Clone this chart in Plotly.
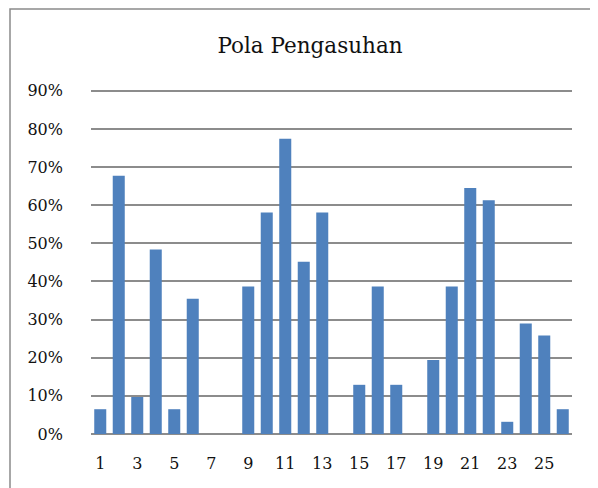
import plotly.graph_objects as go

categories = [str(i) for i in range(1, 27)]
values = [0.065, 0.677, 0.097, 0.484, 0.065, 0.355, 0.0, 0.0, 0.387, 0.581,
          0.774, 0.452, 0.581, 0.0, 0.129, 0.387, 0.129, 0.0, 0.194, 0.387,
          0.645, 0.613, 0.032, 0.290, 0.258, 0.065]
tick_labels = [str(i) for i in range(1, 27, 2)]
y_ticks = [i / 10 for i in range(10)]
y_labels = [f"{i*10}%" for i in range(10)]

OFF = 8  # page body margin
W, H = 598 - OFF, 488 - OFF
L, R, T, B = 91 - OFF, 26, 87 - OFF, 54
pw, ph = W - L - R, H - T - B

fig = go.Figure(go.Bar(x=categories, y=values, marker_color="#4F81BD",
                       marker_line_width=0))
font = "DejaVu Serif"
fig.update_layout(
    width=W, height=H, margin=dict(l=L, r=R, t=T, b=B),
    paper_bgcolor="white", plot_bgcolor="white",
    bargap=0.35, showlegend=False,
    title=dict(text="Pola Pengasuhan", x=(310 - 91) / pw, xref="paper", xanchor="center",
               y=1 - (45 - OFF) / H, yanchor="middle",
               font=dict(family=font, size=21.5, color="#111")),
    font=dict(family=font, size=16, color="#111"),
    xaxis=dict(type="category", tickmode="array", tickvals=tick_labels,
               ticktext=tick_labels, showgrid=False, showline=False, ticks="",
               ticklabelstandoff=18),
    yaxis=dict(range=[0, 0.91], tickvals=y_ticks, ticktext=y_labels,
               showgrid=True, gridcolor="#8c8c8c", gridwidth=1.5,
               zeroline=True, zerolinecolor="#8c8c8c", zerolinewidth=1.5,
               showline=False, ticks="", ticklabelstandoff=27),
)
fig.add_shape(type="rect", xref="paper", yref="paper",
              x0=(10 - 91) / pw, x1=(597 - 91) / pw,
              y0=-(H - T) / ph - 0.05, y1=1 + (T - 1) / ph,
              line=dict(color="#8a8a8a", width=1.5), fillcolor="rgba(0,0,0,0)",
              layer="below")
fig.write_html("out.html")
